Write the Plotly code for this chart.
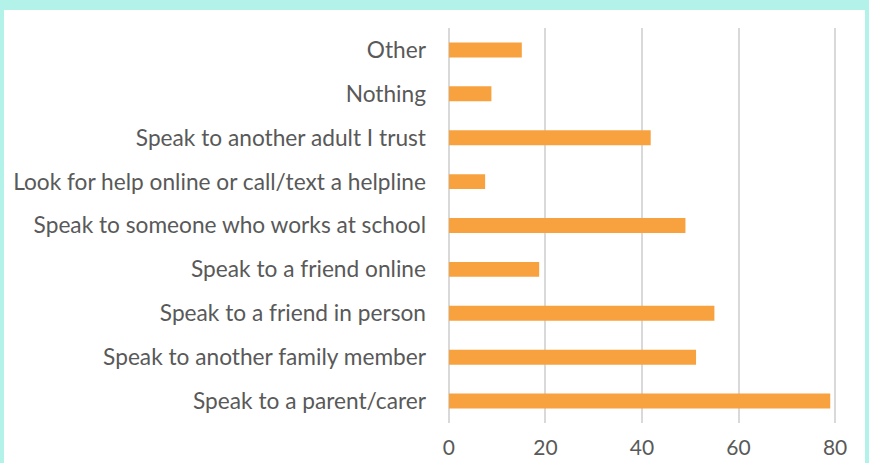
import plotly.graph_objects as go

# survey answers, bottom to top as drawn
categories = [
    "Speak to a parent/carer",
    "Speak to another family member",
    "Speak to a friend in person",
    "Speak to a friend online",
    "Speak to someone who works at school",
    "Look for help online or call/text a helpline",
    "Speak to another adult I trust",
    "Nothing",
    "Other",
]
values = [79, 51.2, 55, 18.7, 49, 7.5, 41.8, 8.8, 15.1]
x_ticks = [0, 20, 40, 60, 80]

W, H = 869, 463
L, R, T, B = 447, 32, 28, 40
pw, ph = W - L - R, H - T - B

fig = go.Figure()
fig.add_trace(go.Bar(
    y=categories, x=values, orientation="h",
    marker=dict(color="#f7a23e", line=dict(width=0)),
    width=0.34,
))

# white card on the mint background
fig.add_shape(type="rect", xref="paper", yref="paper",
              x0=(4 - L) / pw, x1=(865 - L) / pw,
              y0=-0.3, y1=1 + (T - 10) / ph,
              fillcolor="white", line=dict(width=0), layer="below")

fig.update_layout(
    width=W, height=H,
    margin=dict(l=L, r=R, t=T, b=B, autoexpand=False),
    paper_bgcolor="#b3f2e9",
    plot_bgcolor="white",
    showlegend=False,
    font=dict(family="Lato, Open Sans, sans-serif", size=22.7, color="#595959"),
)
fig.update_xaxes(range=[-0.4, 80.4], tickvals=x_ticks, showgrid=True,
                 gridcolor="#d9d9d9", gridwidth=2, zeroline=False,
                 tickfont=dict(size=21), ticklabelstandoff=10,
                 automargin=False, fixedrange=True)
fig.update_yaxes(showgrid=False, ticks="", ticklabelstandoff=20,
                 automargin=False, fixedrange=True)

fig.write_html("out.html", config={"displayModeBar": False},
               post_script="document.body.style.margin='0';"
                           "document.body.style.overflow='hidden';")
